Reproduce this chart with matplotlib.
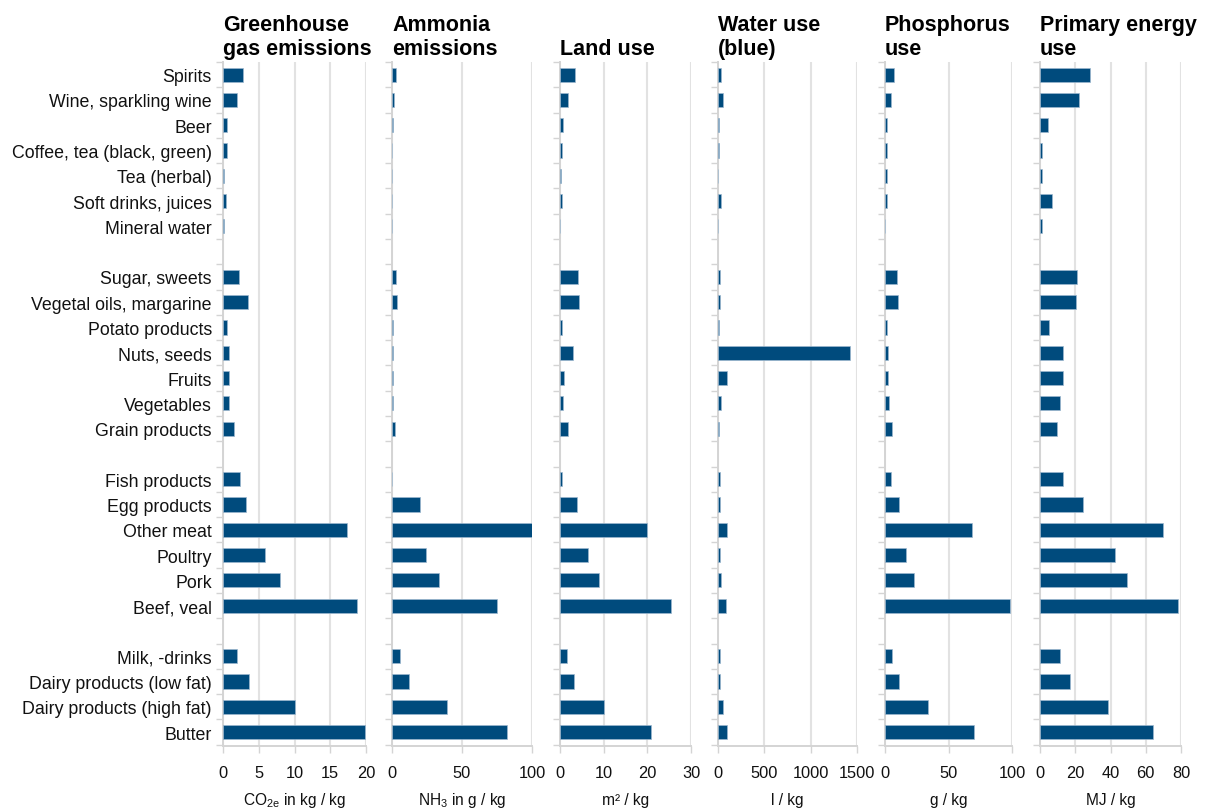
import matplotlib
matplotlib.use("Agg")
import matplotlib.pyplot as plt
import numpy as np

plt.rcParams['font.family'] = ['Liberation Sans', 'DejaVu Sans']
plt.rcParams['mathtext.fontset'] = 'custom'
plt.rcParams['mathtext.rm'] = 'Liberation Sans'
plt.rcParams['mathtext.it'] = 'Liberation Sans:italic'

# ---- data ----
beverages = ["Spirits", "Wine, sparkling wine", "Beer", "Coffee, tea (black, green)",
             "Tea (herbal)", "Soft drinks, juices", "Mineral water"]
plant_foods = ["Sugar, sweets", "Vegetal oils, margarine", "Potato products", "Nuts, seeds",
               "Fruits", "Vegetables", "Grain products"]
animal_foods = ["Fish products", "Egg products", "Other meat", "Poultry", "Pork", "Beef, veal"]
dairy = ["Milk, -drinks", "Dairy products (low fat)", "Dairy products (high fat)", "Butter"]

ghg = [2.8, 1.9, 0.6, 0.6, 0.2, 0.4, 0.2,
       2.2, 3.5, 0.6, 0.9, 0.9, 0.9, 1.6,
       2.4, 3.2, 17.3, 5.9, 8.0, 18.7,
       1.9, 3.7, 10.1, 19.9]
ammonia = [3.0, 1.5, 0.5, 0.2, 0.1, 0.3, 0.1,
           3.0, 3.6, 0.5, 1.0, 1.0, 1.0, 2.4,
           0.3, 20.0, 100.0, 24.5, 33.6, 75.2,
           6.0, 12.4, 39.5, 82.4]
land = [3.4, 1.8, 0.7, 0.5, 0.2, 0.5, 0.05,
        4.2, 4.3, 0.5, 3.0, 1.0, 0.7, 1.9,
        0.5, 3.9, 20.0, 6.4, 9.0, 25.5,
        1.6, 3.3, 10.1, 20.8]
water = [33, 54, 10, 10, 3, 33, 3,
         22, 25, 10, 1425, 94, 33, 10,
         22, 18, 100, 22, 37, 90,
         20, 22, 50, 95]
phosphorus = [6.8, 4.7, 1.8, 1.8, 1.3, 1.5, 0.2,
              9.7, 10.5, 1.8, 2.1, 2.1, 3.1, 5.7,
              4.7, 10.8, 68.5, 16.5, 22.6, 98.2,
              5.2, 10.8, 33.6, 70.0]
energy = [28.4, 22.3, 4.5, 1.3, 1.3, 7.0, 1.3,
          21.0, 20.3, 5.3, 12.9, 12.9, 11.3, 9.6,
          13.3, 24.6, 69.7, 42.8, 49.5, 78.1,
          11.2, 17.2, 38.5, 64.1]

titles = ["Greenhouse\ngas emissions", "Ammonia\nemissions", "Land use",
          "Water use\n(blue)", "Phosphorus\nuse", "Primary energy\nuse"]
units = [r"CO$_{2\mathrm{e}}$ in kg / kg", r"NH$_3$ in g / kg", "m² / kg",
         "l / kg", "g / kg", "MJ / kg"]
xmax = [20, 100, 30, 1500, 100, 80]
xticks = [[0, 5, 10, 15, 20], [0, 50, 100], [0, 10, 20, 30],
          [0, 500, 1000, 1500], [0, 50, 100], [0, 20, 40, 60, 80]]

series = [ghg, ammonia, land, water, phosphorus, energy]

# ---- positions (gap row between groups) ----
groups = [beverages, plant_foods, animal_foods, dairy]
labels, ypos = [], []
row = 0
for g in groups:
    for name in g:
        labels.append(name)
        ypos.append(row)
        row += 1
    row += 1
nrows = row - 1  # 27 rows including gaps
ypos = np.array(ypos)

W, H = 1208, 812
fig = plt.figure(figsize=(W / 100, H / 100), dpi=100)

# axes pixel extents
lefts = [223, 392, 560, 718, 885, 1040]
rights = [366, 532, 691, 857, 1012, 1181]
top, bottom = 63, 747

bar_color = '#004b7d'
grid_color = '#e2e2e2'

for i in range(6):
    ax = fig.add_axes([lefts[i] / W, 1 - bottom / H, (rights[i] - lefts[i]) / W, (bottom - top) / H])
    ax.barh(ypos, series[i], height=0.56, color=bar_color, edgecolor='#9db8cf', linewidth=0.5, zorder=3)
    ax.set_xlim(0, xmax[i])
    ax.set_ylim(nrows - 0.45, -0.5)
    ax.set_xticks(xticks[i])
    ax.set_xticklabels([str(t) for t in xticks[i]], fontsize=11.8)
    ax.grid(axis='x', color=grid_color, linewidth=1.5, zorder=0)
    for s in ['top', 'right']:
        ax.spines[s].set_visible(False)
    for s in ['left', 'bottom']:
        ax.spines[s].set_color('#d4d4d4')
        ax.spines[s].set_linewidth(1.4)
    ax.tick_params(axis='x', length=5, color='#d4d4d4', width=1.0, pad=9, labelcolor='#111111')
    # y ticks at row boundaries
    ax.set_yticks(np.arange(-0.5, nrows, 1.0))
    ax.set_yticklabels([])
    ax.tick_params(axis='y', which='major', length=5, color='#d4d4d4', width=1.0)
    ax.set_yticks(ypos, minor=True)
    if i == 0:
        ax.set_yticklabels(labels, minor=True, fontsize=12.8, color='#111111')
    else:
        ax.set_yticklabels([], minor=True)
    ax.tick_params(axis='y', which='minor', length=0, pad=8)
    ax.set_title(titles[i], loc='left', fontsize=15.5, fontweight='bold', pad=6,
                 x=0.0, ha='left', linespacing=1.17)
    ax.text(0.5, -0.078, units[i], transform=ax.transAxes, ha='center', va='center',
            fontsize=11.2, color='#111111')

fig.savefig("out.png", dpi=100, facecolor='white')
